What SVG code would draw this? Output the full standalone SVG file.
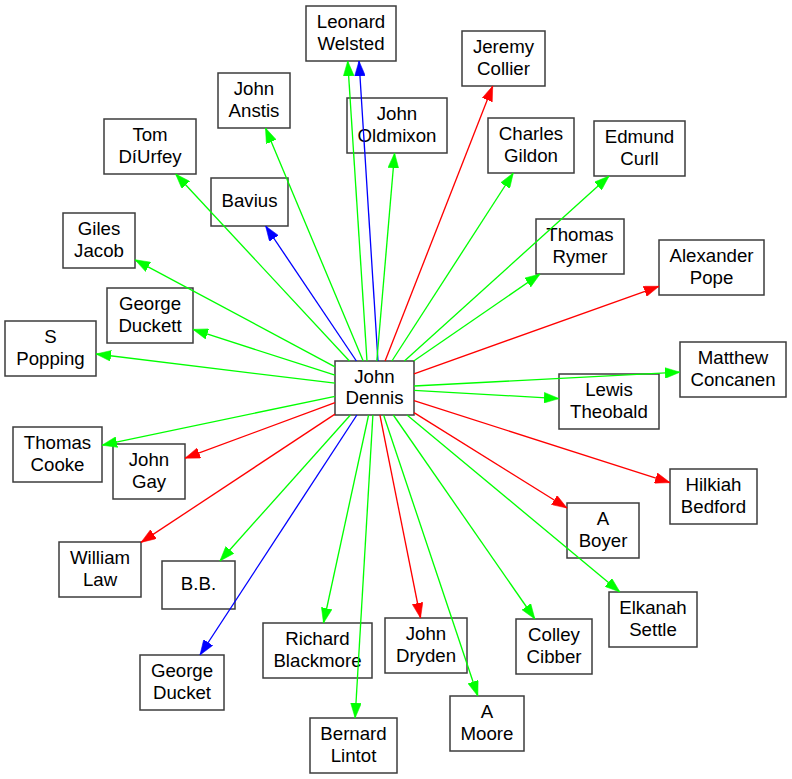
<svg xmlns="http://www.w3.org/2000/svg" width="792" height="779" viewBox="0 0 792 779">
<style>
.n rect{fill:#fff;stroke:#3c3c3c;stroke-width:1.5}
.n text{font-family:"Liberation Sans",Arial,sans-serif;font-size:18.67px;fill:#000;text-anchor:middle}
.e line{stroke-width:1.33;fill:none}
.g{stroke:#00ff00;marker-end:url(#ag)}
.r{stroke:#ff0000;marker-end:url(#ar)}
.b{stroke:#0000ff;marker-end:url(#ab)}
</style>
<defs>
<marker id="ag" markerUnits="userSpaceOnUse" markerWidth="15" markerHeight="11" viewBox="0 0 14 10" refX="14" refY="5" orient="auto"><path d="M0,0 L14,5 L0,10 z" fill="#00ff00" stroke="#00ff00" stroke-width="0.5"/></marker>
<marker id="ar" markerUnits="userSpaceOnUse" markerWidth="15" markerHeight="11" viewBox="0 0 14 10" refX="14" refY="5" orient="auto"><path d="M0,0 L14,5 L0,10 z" fill="#ff0000" stroke="#ff0000" stroke-width="0.5"/></marker>
<marker id="ab" markerUnits="userSpaceOnUse" markerWidth="15" markerHeight="11" viewBox="0 0 14 10" refX="14" refY="5" orient="auto"><path d="M0,0 L14,5 L0,10 z" fill="#0000ff" stroke="#0000ff" stroke-width="0.5"/></marker>
</defs>
<rect width="792" height="779" fill="#fff"/>
<g id="nodes">
<g id="john-dennis" class="n"><rect x="335" y="361" width="79" height="54"/><text x="374.5" y="382.5">John<tspan x="374.5" dy="21.5">Dennis</tspan></text></g>
<g id="leonard-welsted" class="n"><rect x="306" y="6" width="90" height="55"/><text x="351" y="28">Leonard<tspan x="351" dy="21.5">Welsted</tspan></text></g>
<g id="john-anstis" class="n"><rect x="218" y="73" width="72" height="55"/><text x="254" y="95">John<tspan x="254" dy="21.5">Anstis</tspan></text></g>
<g id="john-oldmixon" class="n"><rect x="347" y="98" width="100" height="55"/><text x="397" y="120">John<tspan x="397" dy="21.5">Oldmixon</tspan></text></g>
<g id="tom-durfey" class="n"><rect x="104" y="119" width="92" height="55"/><text x="150" y="141">Tom<tspan x="150" dy="21.5">DíUrfey</tspan></text></g>
<g id="bavius" class="n"><rect x="211" y="178" width="77" height="48"/><text x="249.5" y="207.3">Bavius</text></g>
<g id="giles-jacob" class="n"><rect x="63" y="213" width="72" height="55"/><text x="99" y="235">Giles<tspan x="99" dy="21.5">Jacob</tspan></text></g>
<g id="george-duckett" class="n"><rect x="107" y="288" width="86" height="55"/><text x="150" y="310">George<tspan x="150" dy="21.5">Duckett</tspan></text></g>
<g id="s-popping" class="n"><rect x="5" y="321" width="91" height="55"/><text x="50.5" y="343">S<tspan x="50.5" dy="21.5">Popping</tspan></text></g>
<g id="jeremy-collier" class="n"><rect x="462" y="31" width="83" height="55"/><text x="503.5" y="53">Jeremy<tspan x="503.5" dy="21.5">Collier</tspan></text></g>
<g id="charles-gildon" class="n"><rect x="488" y="118" width="86" height="55"/><text x="531" y="140">Charles<tspan x="531" dy="21.5">Gildon</tspan></text></g>
<g id="edmund-curll" class="n"><rect x="594" y="121" width="91" height="55"/><text x="639.5" y="143">Edmund<tspan x="639.5" dy="21.5">Curll</tspan></text></g>
<g id="thomas-rymer" class="n"><rect x="536" y="219" width="88" height="55"/><text x="580" y="241">Thomas<tspan x="580" dy="21.5">Rymer</tspan></text></g>
<g id="alexander-pope" class="n"><rect x="659" y="240" width="105" height="55"/><text x="711.5" y="262">Alexander<tspan x="711.5" dy="21.5">Pope</tspan></text></g>
<g id="matthew-concanen" class="n"><rect x="680" y="342" width="106" height="55"/><text x="733" y="364">Matthew<tspan x="733" dy="21.5">Concanen</tspan></text></g>
<g id="lewis-theobald" class="n"><rect x="559" y="374" width="100" height="55"/><text x="609" y="396">Lewis<tspan x="609" dy="21.5">Theobald</tspan></text></g>
<g id="thomas-cooke" class="n"><rect x="13" y="427" width="89" height="55"/><text x="57.5" y="449">Thomas<tspan x="57.5" dy="21.5">Cooke</tspan></text></g>
<g id="john-gay" class="n"><rect x="113" y="444" width="72" height="55"/><text x="149" y="466">John<tspan x="149" dy="21.5">Gay</tspan></text></g>
<g id="william-law" class="n"><rect x="59" y="542" width="82" height="55"/><text x="100" y="564">William<tspan x="100" dy="21.5">Law</tspan></text></g>
<g id="bb" class="n"><rect x="162" y="561" width="73" height="48"/><text x="198.5" y="590.3">B.B.</text></g>
<g id="george-ducket" class="n"><rect x="140" y="655" width="84" height="55"/><text x="182" y="677">George<tspan x="182" dy="21.5">Ducket</tspan></text></g>
<g id="richard-blackmore" class="n"><rect x="263" y="623" width="109" height="55"/><text x="317.5" y="645">Richard<tspan x="317.5" dy="21.5">Blackmore</tspan></text></g>
<g id="bernard-lintot" class="n"><rect x="310" y="718" width="87" height="55"/><text x="353.5" y="740">Bernard<tspan x="353.5" dy="21.5">Lintot</tspan></text></g>
<g id="john-dryden" class="n"><rect x="385" y="618" width="82" height="55"/><text x="426" y="640">John<tspan x="426" dy="21.5">Dryden</tspan></text></g>
<g id="hilkiah-bedford" class="n"><rect x="670" y="469" width="87" height="55"/><text x="713.5" y="491">Hilkiah<tspan x="713.5" dy="21.5">Bedford</tspan></text></g>
<g id="a-boyer" class="n"><rect x="567" y="503" width="72" height="55"/><text x="603" y="525">A<tspan x="603" dy="21.5">Boyer</tspan></text></g>
<g id="elkanah-settle" class="n"><rect x="609" y="592" width="88" height="55"/><text x="653" y="614">Elkanah<tspan x="653" dy="21.5">Settle</tspan></text></g>
<g id="colley-cibber" class="n"><rect x="516" y="619" width="76" height="55"/><text x="554" y="641">Colley<tspan x="554" dy="21.5">Cibber</tspan></text></g>
<g id="a-moore" class="n"><rect x="450" y="696" width="74" height="55"/><text x="487" y="718">A<tspan x="487" dy="21.5">Moore</tspan></text></g>
</g>
<g id="connectors" class="e">
<line class="g" x1="367" y1="361" x2="347.7" y2="61"/>
<line class="b" x1="378" y1="361" x2="359" y2="61"/>
<line class="g" x1="363.2" y1="361" x2="265.5" y2="128"/>
<line class="g" x1="376.8" y1="361" x2="394.6" y2="153"/>
<line class="g" x1="349.4" y1="361" x2="175.6" y2="174"/>
<line class="b" x1="356.4" y1="361" x2="265.6" y2="226"/>
<line class="g" x1="335" y1="366.9" x2="135" y2="259.8"/>
<line class="g" x1="335" y1="375.2" x2="193" y2="329.4"/>
<line class="g" x1="335" y1="383.2" x2="96" y2="354"/>
<line class="r" x1="385.1" y1="361" x2="492.7" y2="86"/>
<line class="g" x1="391.9" y1="361" x2="513.3" y2="173"/>
<line class="g" x1="404.4" y1="361" x2="609.1" y2="176"/>
<line class="g" x1="413.7" y1="361" x2="540.1" y2="274"/>
<line class="r" x1="414" y1="373.9" x2="659" y2="286.3"/>
<line class="g" x1="414" y1="386" x2="680" y2="372.2"/>
<line class="g" x1="414" y1="390.3" x2="559" y2="398.6"/>
<line class="g" x1="335" y1="396.3" x2="102" y2="445.2"/>
<line class="r" x1="335" y1="402.6" x2="185" y2="458.2"/>
<line class="r" x1="335" y1="414.1" x2="141" y2="542.4"/>
<line class="g" x1="350.4" y1="415" x2="219.9" y2="561"/>
<line class="b" x1="356.9" y1="415" x2="200" y2="655"/>
<line class="g" x1="368.6" y1="415" x2="323.5" y2="623"/>
<line class="g" x1="372.9" y1="415" x2="355.1" y2="718"/>
<line class="r" x1="379.9" y1="415" x2="420.5" y2="618"/>
<line class="r" x1="414" y1="400.6" x2="670" y2="482.6"/>
<line class="r" x1="414" y1="412.6" x2="567" y2="508"/>
<line class="g" x1="407" y1="415" x2="619.9" y2="592"/>
<line class="g" x1="393.3" y1="415" x2="534.9" y2="619"/>
<line class="g" x1="383.6" y1="415" x2="477.8" y2="696"/>
</g>
</svg>
